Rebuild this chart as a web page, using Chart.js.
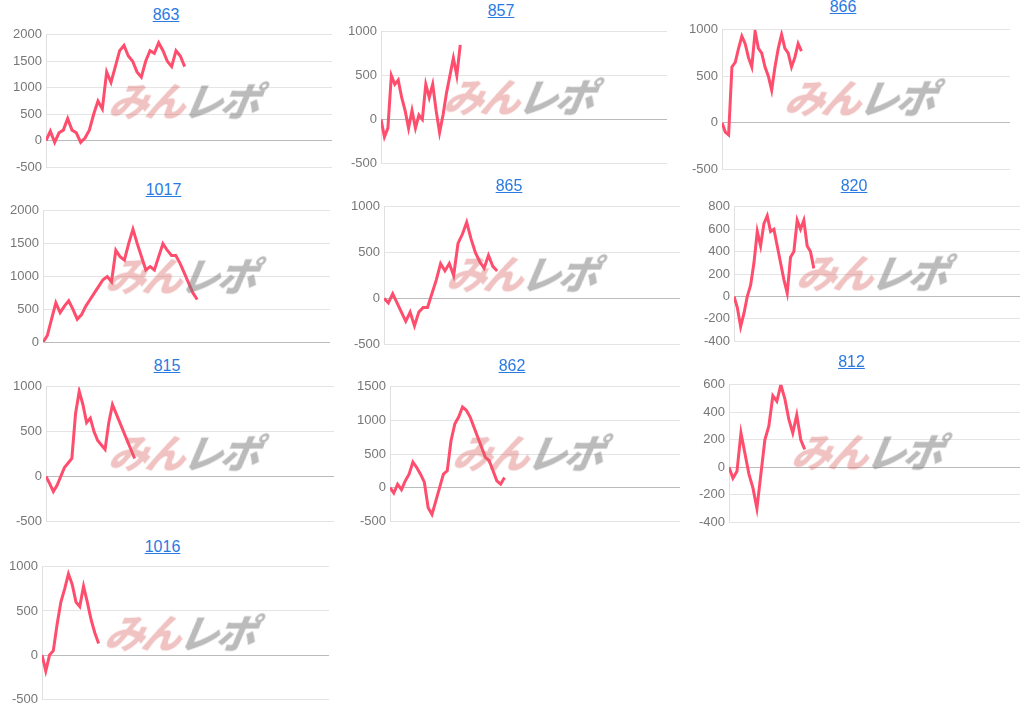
<!DOCTYPE html>
<html><head><meta charset="utf-8">
<script src="https://cdn.jsdelivr.net/npm/chart.js@4/dist/chart.umd.min.js"></script>
<style>
body{margin:0;background:#fff;font-family:Arial,"Liberation Sans",sans-serif;width:1032px;height:710px;position:relative;overflow:hidden}
.p{position:absolute}
.t{position:absolute;color:#2a7ae2;text-decoration:underline;font-size:16px;text-align:center}
.wm{position:absolute;font:italic 900 40px "Noto Sans CJK JP",sans-serif;letter-spacing:-3px;white-space:nowrap;pointer-events:none;transform:skewX(-10deg)}
.wm .a{color:rgba(215,95,95,0.38)}.wm .b{color:rgba(120,120,120,0.5)}
</style></head><body>
<script>
const titles=["863","857","866","1017","865","820","815","862","812","1016"];
const v863=[0,180,-30,150,200,420,200,150,-30,50,200,500,750,600,1300,1100,1400,1700,1800,1600,1500,1300,1200,1500,1700,1650,1850,1700,1500,1400,1700,1600,1400];
const v857=[0,-200,-100,500,400,450,250,100,-100,100,-100,50,0,400,250,400,100,-150,50,300,500,700,500,850];
const v866=[0,-100,-130,600,650,800,930,850,700,600,980,800,750,600,500,350,600,800,950,800,750,600,700,850,770];
const v1017=[0,100,350,600,450,550,630,500,350,420,550,650,750,850,950,1000,920,1400,1300,1250,1500,1720,1500,1300,1100,1150,1100,1300,1500,1400,1320,1320,1200,1050,900,750,650];
const v865=[0,-50,50,-50,-150,-250,-150,-300,-150,-100,-100,50,200,380,300,380,250,600,700,830,650,500,400,330,470,350,300];
const v820=[0,-100,-270,-150,0,100,300,580,450,650,720,580,600,450,300,150,30,350,400,680,600,680,450,400,250];
const v815=[0,-80,-170,-100,0,100,150,200,700,950,800,600,650,500,400,350,300,600,800,700,600,500,400,300,200];
const v862=[0,-80,50,-30,100,200,380,300,200,80,-300,-400,-200,0,200,250,700,950,1050,1200,1150,1050,900,750,600,450,400,250,100,50,150];
const v812=[0,-80,-30,250,100,-50,-150,-300,-50,200,300,520,480,600,500,350,250,380,200,130];
const v1016=[0,-180,0,50,350,600,750,920,800,600,550,780,600,400,250,130];
const series=[v863,v857,v866,v1017,v865,v820,v815,v862,v812,v1016];
const xLen=[66,83,87,67,68,86,78,76,73,76];
const yMin=[-500,-500,-500,0,-500,-400,-500,-500,-400,-500];
const yMax=[2000,1000,1000,2000,1000,800,1000,1500,600,1000];
const ySteps=[500,500,500,500,500,200,500,500,200,500];
const L=[[46,34,332,166,16],[381,31,667,162,12],[722,29,1010,168,8],[43,210,330,341,191],[384,206,680,343,187],[734,206,1020,340,187],[46,386,334,520,367],[390,386,680,520,367],[729,384,1020,521,363],[42,566,329,698,548]];
series.forEach((vals,i)=>{
  const [pl,pt,pr,pb,ty]=L[i];
  const left=pl-46;
  const t=document.createElement('div');t.className='t';t.textContent=titles[i];
  t.style.left=left+'px';t.style.width=(pr-left)+'px';t.style.top=(ty-10)+'px';document.body.appendChild(t);
  const d=document.createElement('div');d.className='p';
  d.style.left=left+'px';d.style.top=(pt-11)+'px';d.style.width=(pr-left)+'px';d.style.height=(pb-pt+24)+'px';
  const c=document.createElement('canvas');d.appendChild(c);document.body.appendChild(d);
  const w=document.createElement('div');w.className='wm';w.innerHTML='<span class="a">みん</span><span class="b">レポ</span>';
  w.style.left=(pl+64)+'px';w.style.top=(pt+(pb-pt)*0.27)+'px';document.body.appendChild(w);
  new Chart(c,{type:'line',data:{datasets:[{data:vals.map((v,k)=>({x:k,y:v})),borderColor:'#ff4d6d',borderWidth:3,pointRadius:0,tension:0}]},
    options:{animation:false,responsive:true,maintainAspectRatio:false,
      plugins:{legend:{display:false},tooltip:{enabled:false}},
      scales:{x:{type:'linear',min:0,max:xLen[i],display:false},
        y:{min:yMin[i],max:yMax[i],afterFit:s=>{s.width=46},ticks:{stepSize:ySteps[i],color:'#777',font:{size:13},padding:4,callback:v=>String(v)},
          grid:{color:ctx=>ctx.tick&&ctx.tick.value===0?'#bbb':'#e4e4e4',drawTicks:false},border:{display:true,color:'#e0e0e0'}}}}});
});
</script></body></html>
